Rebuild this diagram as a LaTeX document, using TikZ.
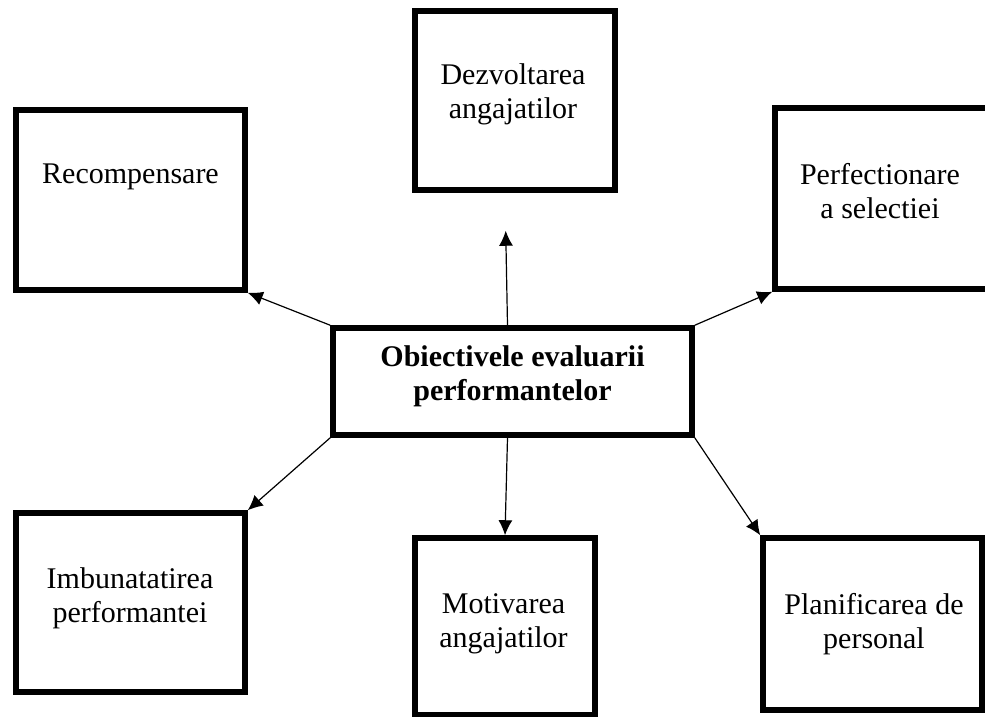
\documentclass[tikz,border=0pt]{standalone}
\usepackage{fontspec}
\setmainfont{Liberation Serif}
\usetikzlibrary{arrows.meta}

\begin{document}
\begin{tikzpicture}[x=1pt,y=-1pt,>={Latex[length=15pt,width=14pt]},
    box/.style={draw,line width=5.5pt,inner sep=0pt},
    txt/.style={align=center,inner sep=0pt,anchor=base,font=\fontsize{30}{34}\selectfont},
    link/.style={->,line width=1.2pt}]
        \useasboundingbox (0,0) rectangle (985,717);
        % boxes
        \node[box,minimum width=359,minimum height=107](cen)at(512.5,381.5){};
        \node[box,minimum width=200,minimum height=179](dezv)at(515,100.5){};
        \node[box,minimum width=229,minimum height=180](recomp)at(130.5,200){};
        \node[box,minimum width=215,minimum height=181](perf)at(882.5,198.5){};
        \node[box,minimum width=229,minimum height=179](imb)at(130.5,602.5){};
        \node[box,minimum width=180,minimum height=177](motiv)at(505,626.5){};
        \node[box,minimum width=219,minimum height=172](plan)at(872.5,624){};
        % texts (base = last line)
        \node[txt](cent)at(512.5,400){\textbf{Obiectivele evaluarii}\\\textbf{performantelor}};
        \node[txt](dezvt)at(513,118){Dezvoltarea\\angajatilor};
        \node[txt](recompt)at(130.5,183){Recompensare};
        \node[txt](perft)at(880,218){Perfectionare\\a selectiei};
        \node[txt](imbt)at(130,622){Imbunatatirea\\performantei};
        \node[txt](motivt)at(503.5,647){Motivarea\\angajatilor};
        \node[txt](plant)at(874,648){Planificarea de\\personal};
        % arrows
        \draw[link]([xshift=-5pt]cen.north)--([xshift=-10pt]dezv.south)[shorten >=38pt];
        \draw[link](cen.north west)--(recomp.south east);
        \draw[link](cen.north east)--(perf.south west);
        \draw[link](cen.south west)--(imb.north east);
        \draw[link]([xshift=-5pt]cen.south)--(motiv.north);
        \draw[link](cen.south east)--(plan.north west);
    \end{tikzpicture}
\end{document}
